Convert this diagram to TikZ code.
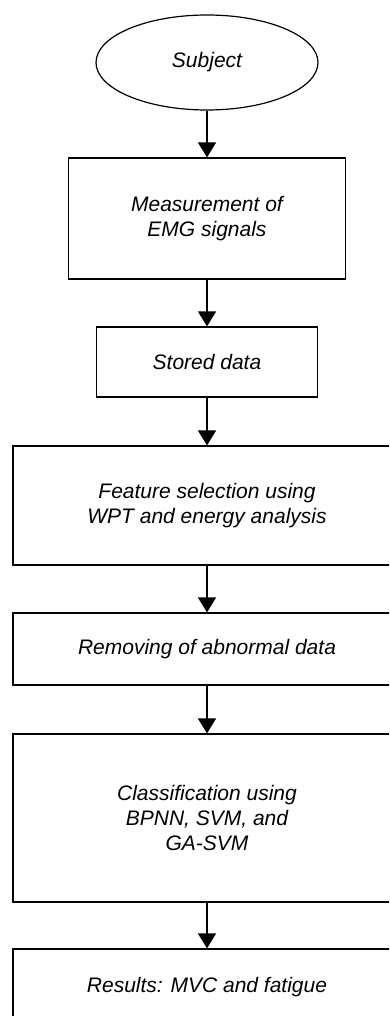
\documentclass[tikz,border=0pt]{standalone}
\usepackage{fontspec}
\setmainfont{Liberation Sans}
\usetikzlibrary{arrows.meta, shapes.geometric}

\begin{document}
\begin{tikzpicture}[x=1pt,y=-1pt,
  every node/.style={font=\fontsize{21}{25}\selectfont\itshape,align=center,inner sep=0pt},
  box/.style={draw,line width=1.2pt,minimum width=#1},
  box/.default=388pt,
  flow/.style={-{Triangle[width=18pt,length=15pt]},line width=1.4pt}]
  \useasboundingbox (0,0) rectangle (389,1016);
  \fill[white] (0,0) rectangle (389,1016);
  \clip (0,0) rectangle (389,1016);
  \node[draw,ellipse,line width=1.2pt,minimum width=222pt,minimum height=95pt](s) at(207,62.5){Subject};
  \node[box=277pt,minimum height=121pt](m) at(207,218.5){Measurement of\\EMG signals};
  \node[box=221pt,minimum height=70pt](d) at(207,362){Stored data};
  \node[box,minimum height=119pt](f) at(207,505.5){Feature selection using\\WPT and energy analysis};
  \node[box,minimum height=72pt](r) at(207,649){Removing of abnormal data};
  \node[box,minimum height=168pt](c) at(207,818){Classification using\\BPNN, SVM, and\\GA-SVM};
  \node[box,minimum height=76pt](o) at(207,987){Results: MVC and fatigue};
  \draw[flow](s)--(m);
  \draw[flow](m)--(d);
  \draw[flow](d)--(f);
  \draw[flow](f)--(r);
  \draw[flow](r)--(c);
  \draw[flow](c)--(o);
\end{tikzpicture}
\end{document}
